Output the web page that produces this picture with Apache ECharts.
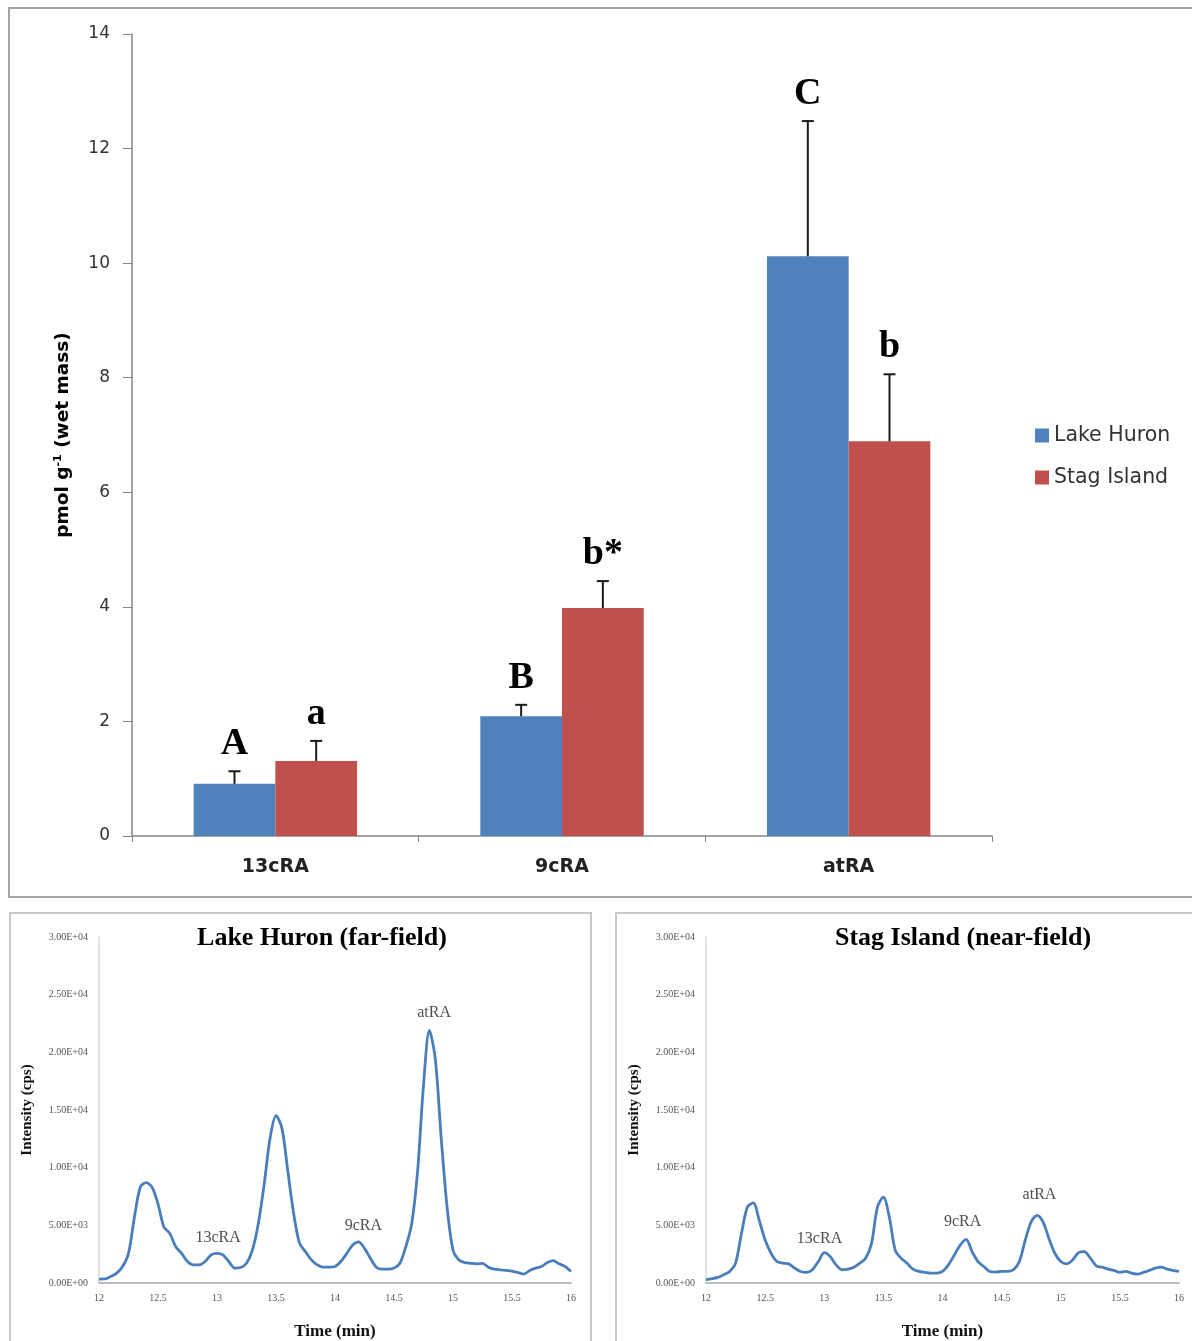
<!DOCTYPE html>
<html>
<head>
<meta charset="utf-8">
<script src="https://cdn.jsdelivr.net/npm/echarts@6/dist/echarts.min.js"></script>
<style>
html,body{margin:0;padding:0;background:#fff;}
#chart{width:1192px;height:1341px;}
</style>
</head>
<body>
<div id="chart"></div>
<script>
// ---- Bar chart data ----
const categories = ['13cRA', '9cRA', 'atRA'];
const lakeHuron = [0.91, 2.09, 10.12];
const lakeHuronErr = [0.22, 0.20, 2.36];
const lakeHuronLetters = ['A', 'B', 'C'];
const stagIsland = [1.31, 3.98, 6.89];
const stagIslandErr = [0.35, 0.47, 1.17];
const stagIslandLetters = ['a', 'b*', 'b'];
const barYTicks = [0, 2, 4, 6, 8, 10, 12, 14];

// ---- Chromatogram data ----
const timeMin = [12.00,12.05,12.10,12.15,12.20,12.25,12.30,12.35,12.40,12.45,12.50,12.55,12.60,12.65,12.70,12.75,12.80,12.85,12.90,12.95,
  13.00,13.05,13.10,13.15,13.20,13.25,13.30,13.35,13.40,13.45,13.50,13.55,13.60,13.65,13.70,13.75,13.80,13.85,13.90,13.95,
  14.00,14.05,14.10,14.15,14.20,14.25,14.30,14.35,14.40,14.45,14.50,14.55,14.60,14.65,14.70,14.75,14.80,14.85,14.90,14.95,
  15.00,15.05,15.10,15.15,15.20,15.25,15.30,15.35,15.40,15.45,15.50,15.55,15.60,15.65,15.70,15.75,15.80,15.85,15.90,15.95,16.00];
const huronIntensity = [340,350,570,860,1430,2570,5700,8300,8700,8300,6860,4860,4300,3140,2570,1860,1570,1570,1860,2430,
  2570,2430,1860,1290,1340,1710,2860,5140,8570,12570,14500,13430,9710,6000,3430,2710,2000,1570,1370,1370,
  1430,1860,2570,3290,3570,3000,2140,1370,1200,1200,1290,1710,3140,5140,9710,17140,21900,19430,12570,6570,
  2860,2000,1770,1710,1660,1710,1370,1200,1140,1090,1030,910,770,1090,1290,1430,1770,1940,1660,1430,1000];
const stagIntensity = [290,370,490,720,1000,1720,4290,6590,6950,5440,3720,2580,1860,1720,1660,1290,1000,920,1150,1860,
  2630,2290,1570,1150,1200,1370,1720,2150,3440,6590,7440,5730,2860,2150,1720,1200,1000,920,860,860,
  1000,1570,2430,3290,3780,2720,1860,1430,1000,950,1000,1000,1150,1860,3720,5300,5870,5300,3860,2580,
  1860,1660,2000,2630,2720,2150,1490,1370,1200,1090,920,1000,860,770,920,1090,1290,1370,1200,1090,1000];
const peakNames = ['13cRA', '9cRA', 'atRA'];
const huronPeakLabelX = [13.01, 14.24, 14.84];
const huronPeakLabelY = [3940, 4970, 23400];
const stagPeakLabelX = [12.96, 14.17, 14.82];
const stagPeakLabelY = [3860, 5310, 7630];
const chromXTicks = [12, 12.5, 13, 13.5, 14, 14.5, 15, 15.5, 16];
const chromYTicks = [0, 5000, 10000, 15000, 20000, 25000, 30000];

const BLUE = '#4F81BD', RED = '#C0504D', LINE = '#4A7EBB';
const SERIF = '"Liberation Serif","Times New Roman",serif';
const SANS = '"DejaVu Sans",Verdana,sans-serif';
const CAT_GAP = 0.43;

function sci(v) {
  if (v === 0) return '0.00E+00';
  const e = Math.floor(Math.log10(v) + 1e-9);
  const m = (v / Math.pow(10, e)).toFixed(2);
  return m + (e >= 0 ? 'E+' : 'E-') + String(Math.abs(e)).padStart(2, '0');
}

function errSeries(name, vals, errs, letters, side) {
  return {
    type: 'custom', name: name + ' err', xAxisIndex: 0, yAxisIndex: 0, z: 5,
    data: vals.map((v, i) => [i, v, errs[i]]),
    renderItem: function (params, api) {
      const band = api.size([1, 0])[0];
      const bw = band * (1 - CAT_GAP) / 2;
      const base = api.coord([api.value(0), api.value(1)]);
      const top = api.coord([api.value(0), api.value(1) + api.value(2)]);
      const x = base[0] + side * bw / 2;
      const ls = { stroke: '#1a1a1a', lineWidth: 2 };
      return {
        type: 'group',
        children: [
          { type: 'line', shape: { x1: x, y1: base[1], x2: x, y2: top[1] }, style: ls },
          { type: 'line', shape: { x1: x - 6, y1: top[1], x2: x + 6, y2: top[1] }, style: ls },
          { type: 'text', style: { text: letters[params.dataIndex], x: x, y: top[1] - 27,
              align: 'center', verticalAlign: 'middle', font: 'bold 38px ' + SERIF, fill: '#000' } }
        ]
      };
    }
  };
}

function chromAxes(gridIdx) {
  return {
    x: {
      type: 'value', gridIndex: gridIdx, min: 12, max: 16, interval: 0.5,
      name: 'Time (min)', nameLocation: 'middle', nameGap: 40,
      nameTextStyle: { fontFamily: SERIF, fontWeight: 'bold', fontSize: 17, color: '#111' },
      axisLine: { show: true, lineStyle: { color: '#a6a6a6', width: 1.5 } },
      axisTick: { show: false },
      splitLine: { show: false },
      axisLabel: { fontFamily: SERIF, fontSize: 10, color: '#555', margin: 10,
        formatter: v => chromXTicks.indexOf(v) >= 0 ? String(v) : '' }
    },
    y: {
      type: 'value', gridIndex: gridIdx, min: 0, max: 30000, interval: 5000,
      name: 'Intensity (cps)', nameLocation: 'middle', nameGap: 64,
      nameTextStyle: { fontFamily: SERIF, fontWeight: 'bold', fontSize: 15, color: '#111' },
      axisLine: { show: true, lineStyle: { color: '#d9d9d9', width: 1.5 } },
      axisTick: { show: false },
      splitLine: { show: false },
      axisLabel: { fontFamily: SERIF, fontSize: 10, color: '#555', margin: 11,
        formatter: v => chromYTicks.indexOf(v) >= 0 ? sci(v) : '' }
    }
  };
}

const axL = chromAxes(1), axR = chromAxes(2);

const chart = echarts.init(document.getElementById('chart'), null, { renderer: 'canvas' });
chart.setOption({
  backgroundColor: '#fff',
  animation: false,
  title: [
    { text: 'Lake Huron (far-field)', left: 322, top: 925, textAlign: 'center', padding: 0,
      textStyle: { fontFamily: SERIF, fontWeight: 'bold', fontSize: 26, color: '#000' } },
    { text: 'Stag Island (near-field)', left: 963, top: 925, textAlign: 'center', padding: 0,
      textStyle: { fontFamily: SERIF, fontWeight: 'bold', fontSize: 26, color: '#000' } }
  ],
  graphic: [
    { type: 'rect', shape: { x: 9, y: 8, width: 1200, height: 889 }, style: { fill: 'none', stroke: '#a5a5a5', lineWidth: 2 }, z: -1 },
    { type: 'rect', shape: { x: 10, y: 913, width: 581, height: 460 }, style: { fill: 'none', stroke: '#c8c8c8', lineWidth: 2 }, z: -1 },
    { type: 'rect', shape: { x: 616, y: 913, width: 600, height: 460 }, style: { fill: 'none', stroke: '#c8c8c8', lineWidth: 2 }, z: -1 }
  ],
  legend: {
    data: ['Lake Huron', 'Stag Island'], orient: 'vertical', left: 1030, top: 420,
    itemWidth: 14, itemHeight: 14, itemGap: 21, icon: 'rect',
    textStyle: { fontFamily: SANS, fontSize: 20.5, color: '#333' }
  },
  grid: [
    { left: 132, top: 34, width: 860, height: 802 },
    { left: 99, top: 937, width: 472, height: 350 },
    { left: 706, top: 937, width: 473, height: 350 }
  ],
  xAxis: [
    { type: 'category', gridIndex: 0, data: categories,
      axisLine: { lineStyle: { color: '#868686', width: 1.5 } },
      axisTick: { show: true, length: 6, lineStyle: { color: '#868686' } },
      axisLabel: { fontFamily: SANS, fontWeight: 'bold', fontSize: 19, color: '#222', margin: 22 } },
    axL.x, axR.x
  ],
  yAxis: [
    { type: 'value', gridIndex: 0, min: 0, max: 14, interval: 2,
      name: 'pmol g{sup|-1} (wet mass)', nameLocation: 'middle', nameGap: 58,
      nameTextStyle: { fontFamily: SANS, fontWeight: 'bold', fontSize: 18.5, color: '#000',
        rich: { sup: { fontFamily: SANS, fontWeight: 'bold', fontSize: 11, color: '#000', verticalAlign: 'bottom', padding: [0, 0, 10, 0] } } },
      axisLine: { show: true, lineStyle: { color: '#868686', width: 1.5 } },
      axisTick: { show: true, inside: false, length: 9, lineStyle: { color: '#868686' } },
      splitLine: { show: false },
      axisLabel: { fontFamily: SANS, fontSize: 17, color: '#333', margin: 22,
        formatter: v => barYTicks.indexOf(v) >= 0 ? String(v) : '' } },
    axL.y, axR.y
  ],
  series: [
    { type: 'bar', name: 'Lake Huron', xAxisIndex: 0, yAxisIndex: 0, data: lakeHuron,
      itemStyle: { color: BLUE }, barGap: '0%', barCategoryGap: (CAT_GAP * 100) + '%' },
    { type: 'bar', name: 'Stag Island', xAxisIndex: 0, yAxisIndex: 0, data: stagIsland,
      itemStyle: { color: RED }, barGap: '0%', barCategoryGap: (CAT_GAP * 100) + '%' },
    errSeries('Lake Huron', lakeHuron, lakeHuronErr, lakeHuronLetters, -1),
    errSeries('Stag Island', stagIsland, stagIslandErr, stagIslandLetters, 1),
    { type: 'line', name: 'huron', xAxisIndex: 1, yAxisIndex: 1, showSymbol: false, smooth: 0.3,
      data: timeMin.map((t, i) => [t, huronIntensity[i]]),
      lineStyle: { color: LINE, width: 2.8 }, itemStyle: { color: LINE } },
    { type: 'line', name: 'stag', xAxisIndex: 2, yAxisIndex: 2, showSymbol: false, smooth: 0.3,
      data: timeMin.map((t, i) => [t, stagIntensity[i]]),
      lineStyle: { color: LINE, width: 2.8 }, itemStyle: { color: LINE } },
    { type: 'scatter', name: 'huronPeaks', xAxisIndex: 1, yAxisIndex: 1, symbolSize: 0, silent: true,
      data: peakNames.map((n, i) => ({ name: n, value: [huronPeakLabelX[i], huronPeakLabelY[i]] })),
      label: { show: true, position: 'inside', formatter: p => p.name, fontFamily: SERIF, fontSize: 16, color: '#222' } },
    { type: 'scatter', name: 'stagPeaks', xAxisIndex: 2, yAxisIndex: 2, symbolSize: 0, silent: true,
      data: peakNames.map((n, i) => ({ name: n, value: [stagPeakLabelX[i], stagPeakLabelY[i]] })),
      label: { show: true, position: 'inside', formatter: p => p.name, fontFamily: SERIF, fontSize: 16, color: '#222' } }
  ]
});
</script>
</body>
</html>
